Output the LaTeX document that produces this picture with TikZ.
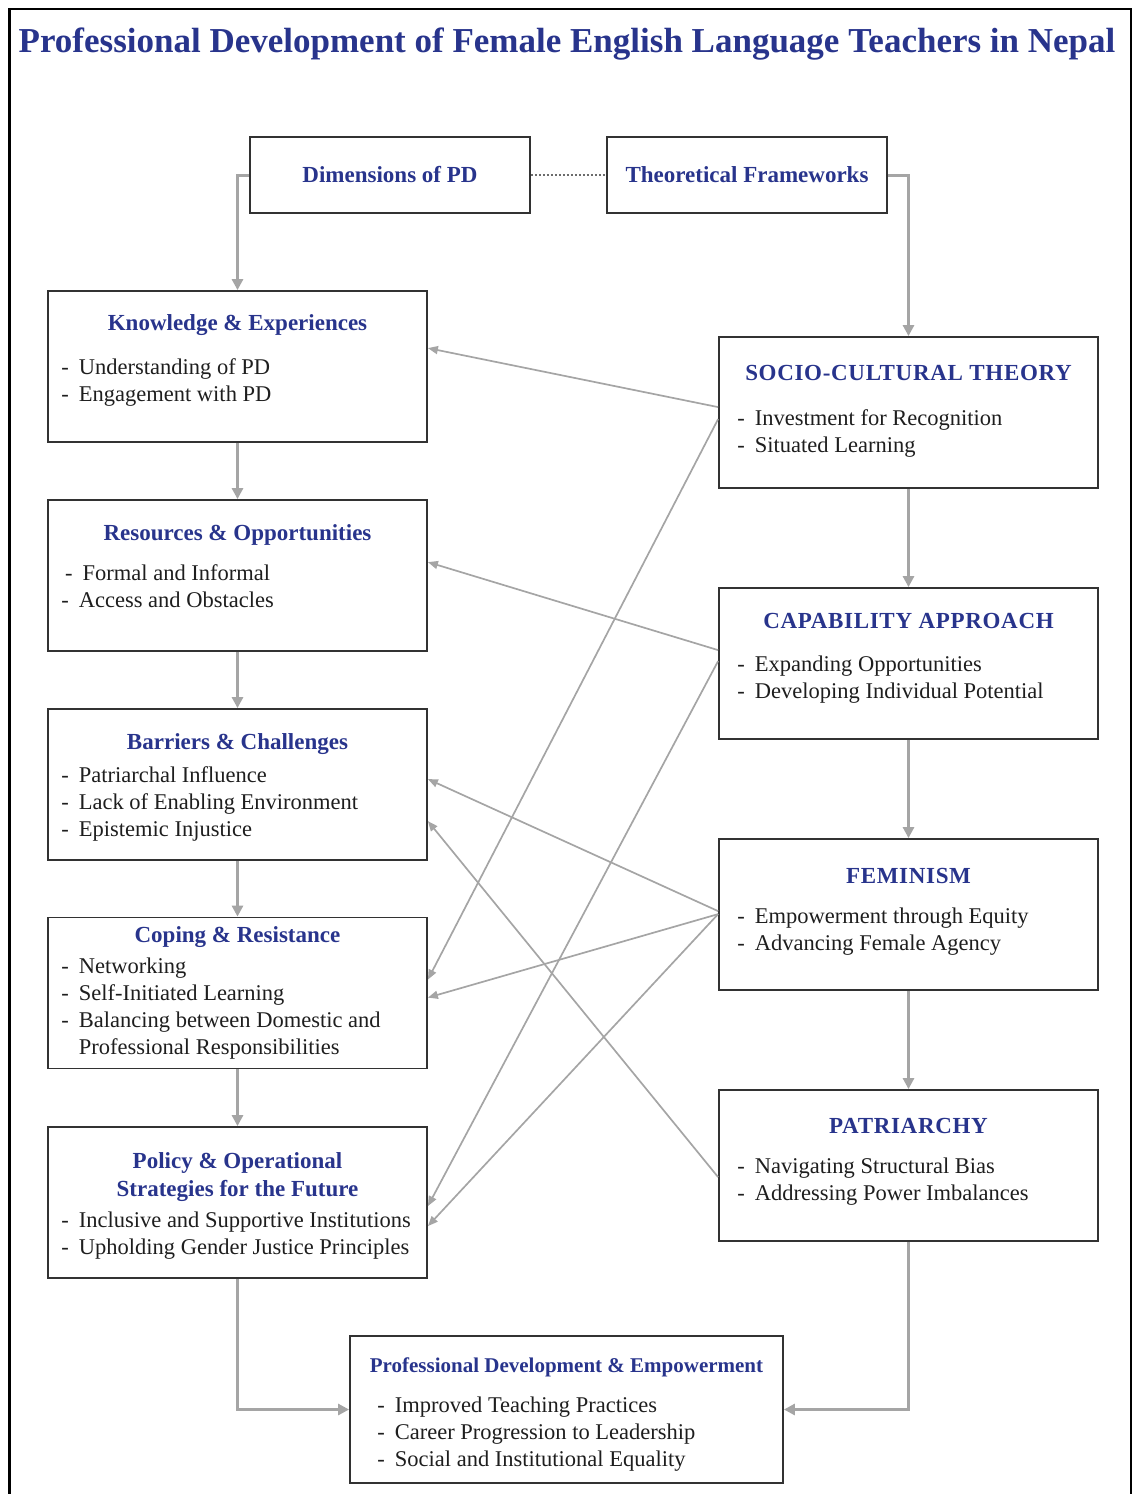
\documentclass[tikz,border=0pt]{standalone}
\usepackage{fontspec}
\setmainfont{Liberation Serif}
\usepackage{xcolor}
\usetikzlibrary{calc,arrows.meta}

\definecolor{headblue}{RGB}{40,52,140}
\definecolor{boxline}{RGB}{50,50,50}
\definecolor{linkgray}{RGB}{165,165,165}
\definecolor{bodytext}{RGB}{30,30,30}

\newcommand{\pdlines}[1]{\begin{tabular}[t]{@{}l@{}}#1\end{tabular}}
\newcommand{\pdhead}[1]{\begin{tabular}[t]{@{}c@{}}#1\end{tabular}}
\newcommand{\pddash}{-\hspace{0.45em}}

\begin{document}
\begin{tikzpicture}[x=1pt,y=-1pt]
    \tikzstyle{box}=[draw=boxline,line width=1.8pt,minimum width=379pt,minimum height=151pt,inner sep=0pt]
    \tikzstyle{head}=[anchor=base,inner sep=0pt,text=headblue,font=\fontsize{23}{28}\selectfont\bfseries]
    \tikzstyle{caps}=[head,font=\fontsize{23}{28}\selectfont\bfseries\addfontfeature{LetterSpace=3}]
    \tikzstyle{items}=[anchor=base west,inner sep=0pt,text=bodytext,font=\fontsize{22.5}{27}\selectfont]
    \tikzstyle{flow}=[draw=linkgray,line width=3pt,-{Triangle[length=11pt,width=11pt]}]
    \tikzstyle{link}=[draw=linkgray,line width=1.7pt,-{Triangle[length=10pt,width=8pt]}]

    \useasboundingbox (0,0) rectangle (1133,1494);
    \draw[line width=2.5pt] (9.5,1494) -- (9.5,9) -- (1131,9) -- (1131,1494);

    \node[anchor=base,inner sep=0pt,text=headblue,font=\fontsize{35}{40}\selectfont\bfseries] (title) at (567,52)
        {Professional Development of Female English Language Teachers in Nepal};

    \node[box,minimum width=280pt,minimum height=76pt,text=headblue,font=\fontsize{23}{28}\selectfont\bfseries] (dim) at (390,175) {Dimensions of PD};
    \node[box,minimum width=280pt,minimum height=76pt,text=headblue,font=\fontsize{23}{28}\selectfont\bfseries] (tf) at (747,175) {Theoretical Frameworks};

    % dimensions of PD
    \node[box] (kn) at (237.5,366.5) {};
    \node[head] (knhead) at ($(kn.north)+(0,40)$) {Knowledge \& Experiences};
    \node[items] (knlist) at ($(kn.north west)+(14,84)$) {\pdlines{\pddash Understanding of PD\\\pddash Engagement with PD}};

    \node[box] (ro) at (237.5,575.5) {};
    \node[head] (rohead) at ($(ro.north)+(0,41)$) {Resources \& Opportunities};
    \node[items] (rolist) at ($(ro.north west)+(14,81)$) {\pdlines{\,\pddash Formal and Informal\\\pddash Access and Obstacles}};

    \node[box] (bc) at (237.5,784.5) {};
    \node[head] (bchead) at ($(bc.north)+(0,41)$) {Barriers \& Challenges};
    \node[items] (bclist) at ($(bc.north west)+(14,74)$) {\pdlines{\pddash Patriarchal Influence\\\pddash Lack of Enabling Environment\\\pddash Epistemic Injustice}};

    \node[box] (cr) at (237.5,993) {};
    \node[head] (crhead) at ($(cr.north)+(0,26)$) {Coping \& Resistance};
    \node[items] (crlist) at ($(cr.north west)+(14,57)$) {\pdlines{\pddash Networking\\\pddash Self-Initiated Learning\\\pddash Balancing between Domestic and\\\phantom{\pddash}Professional Responsibilities}};

    \node[box] (ps) at (237.5,1202.5) {};
    \node[head] (pshead) at ($(ps.north)+(0,42)$) {\pdhead{Policy \& Operational\\Strategies for the Future}};
    \node[items] (pslist) at ($(ps.north west)+(14,101)$) {\pdlines{\pddash Inclusive and Supportive Institutions\\\pddash Upholding Gender Justice Principles}};

    % theoretical frameworks
    \node[box] (sct) at (908.5,412.5) {};
    \node[caps] (scthead) at ($(sct.north)+(0,44)$) {SOCIO-CULTURAL THEORY};
    \node[items] (sctlist) at ($(sct.north west)+(19,89)$) {\pdlines{\pddash Investment for Recognition\\\pddash Situated Learning}};

    \node[box] (cap) at (908.5,663.5) {};
    \node[caps] (caphead) at ($(cap.north)+(0,41)$) {CAPABILITY APPROACH};
    \node[items] (caplist) at ($(cap.north west)+(19,84)$) {\pdlines{\pddash Expanding Opportunities\\\pddash Developing Individual Potential}};

    \node[box] (fem) at (908.5,914.5) {};
    \node[caps] (femhead) at ($(fem.north)+(0,45)$) {FEMINISM};
    \node[items] (femlist) at ($(fem.north west)+(19,85)$) {\pdlines{\pddash Empowerment through Equity\\\pddash Advancing Female Agency}};

    \node[box] (pat) at (908.5,1165.5) {};
    \node[caps] (pathead) at ($(pat.north)+(0,44)$) {PATRIARCHY};
    \node[items] (patlist) at ($(pat.north west)+(19,84)$) {\pdlines{\pddash Navigating Structural Bias\\\pddash Addressing Power Imbalances}};

    \node[box,minimum width=433pt,minimum height=147pt] (pde) at (566.5,1409.5) {};
    \node[head,font=\fontsize{21}{25}\selectfont\bfseries] (pdehead) at ($(pde.north)+(0,37)$) {Professional Development \& Empowerment};
    \node[items] (pdelist) at ($(pde.north west)+(28,77)$) {\pdlines{\pddash Improved Teaching Practices\\\pddash Career Progression to Leadership\\\pddash Social and Institutional Equality}};

    \draw[draw=gray!85!black,line width=1.6pt,dash pattern=on 2.5pt off 1.5pt] (dim) -- (tf);

    \draw[flow] (dim.west) -| (kn.north);
    \draw[flow] (kn.south) -- (ro.north);
    \draw[flow] (ro.south) -- (bc.north);
    \draw[flow] (bc.south) -- (cr.north);
    \draw[flow] (cr.south) -- (ps.north);
    \draw[flow] (ps.south) |- (pde.west);

    \draw[flow] (tf.east) -| (sct.north);
    \draw[flow] (sct.south) -- (cap.north);
    \draw[flow] (cap.south) -- (fem.north);
    \draw[flow] (fem.south) -- (pat.north);
    \draw[flow] (pat.south) |- (pde.east);

    % links from theories to dimensions
    \draw[link] ($(sct.north west)+(0,71)$) -- ($(kn.north east)+(0,58)$);
    \draw[link] ($(sct.north west)+(0,83)$) -- ($(cr.north east)+(0,63)$);
    \draw[link] ($(cap.north west)+(0,63)$) -- ($(ro.north east)+(0,63)$);
    \draw[link] ($(cap.north west)+(0,74)$) -- ($(ps.north east)+(0,80)$);
    \draw[link] ($(fem.north west)+(0,73)$) -- ($(bc.north east)+(0,71)$);
    \draw[link] ($(fem.north west)+(0,76)$) -- ($(cr.north east)+(0,81)$);
    \draw[link] ($(fem.north west)+(0,76)$) -- ($(ps.north east)+(0,100)$);
    \draw[link] ($(pat.north west)+(0,88)$) -- ($(bc.north east)+(0,113)$);

\end{tikzpicture}
\end{document}
